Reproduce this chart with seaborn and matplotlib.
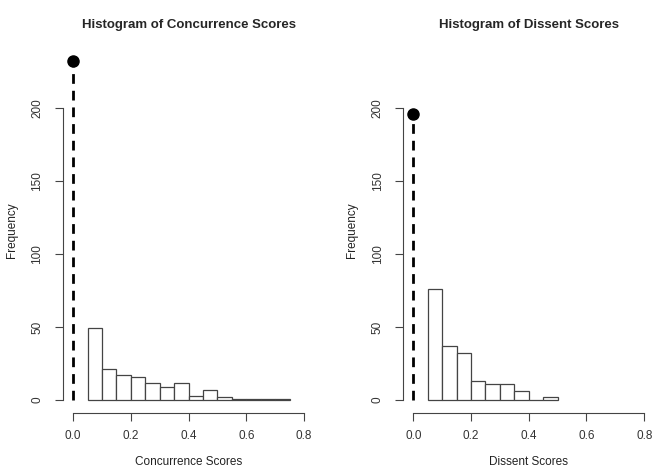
import matplotlib
matplotlib.use("Agg")
import matplotlib.pyplot as plt
import numpy as np
import pandas as pd
import seaborn as sns

sns.set_style("white")
plt.rcParams['font.family'] = ['Liberation Sans', 'DejaVu Sans']

# counts, bins of width 0.05 starting at 0.05
conc_counts = [49, 21, 17, 16, 12, 9, 12, 3, 7, 2, 1, 1, 1, 1]
diss_counts = [76, 37, 32, 13, 11, 11, 6, 0, 2]
conc_zero = 232   # spike at 0 (drawn as dashed line + dot)
diss_zero = 196
bin_start = 0.05
bin_width = 0.05

titles = ["Histogram of Concurrence Scores", "Histogram of Dissent Scores"]
xlabels = ["Concurrence Scores", "Dissent Scores"]
xticks = [0.0, 0.2, 0.4, 0.6, 0.8]
yticks = [0, 50, 100, 150, 200]

fig = plt.figure(figsize=(6.54, 4.68), dpi=100)
axes = [fig.add_axes([0.0963, 0.1175, 0.384, 0.781]),
        fig.add_axes([0.6165, 0.1175, 0.384, 0.781])]

grey = "#444444"
for ax, counts, zero, title, xl in zip(axes, [conc_counts, diss_counts],
                                      [conc_zero, diss_zero], titles, xlabels):
    n = len(counts)
    lo = bin_start
    hi = bin_start + bin_width * n
    df = pd.DataFrame({"score": lo + bin_width * (np.arange(n) + 0.5), "count": counts})
    sns.histplot(data=df, x="score", weights="count", binwidth=bin_width,
                 binrange=(lo, hi), ax=ax,
                 color="white", edgecolor=grey, linewidth=0.9, alpha=1)
    ax.plot([0, 0], [0, zero], color="black", linestyle=(0, (3.5, 2.5)), linewidth=2)
    ax.plot([0], [zero], "o", color="black", markersize=8)
    ax.set_xlim(-0.035, 0.835)
    ax.set_ylim(-8.9, 241.5)
    for s in ["top", "right"]:
        ax.spines[s].set_visible(False)
    ax.spines["left"].set_bounds(0, 200)
    ax.spines["bottom"].set_bounds(0, 0.8)
    for s in ["left", "bottom"]:
        ax.spines[s].set_color(grey)
        ax.spines[s].set_linewidth(0.8)
    ax.set_xticks(xticks)
    ax.set_xticklabels(["0.0", "0.2", "0.4", "0.6", "0.8"])
    ax.set_yticks(yticks)
    ax.set_yticklabels([str(t) for t in yticks], rotation=90, va="center")
    ax.tick_params(axis="both", direction="out", length=6, width=0.8,
                   color=grey, labelcolor="#333333", labelsize=8.5, pad=6,
                   bottom=True, left=True)
    ax.tick_params(axis="y", pad=8)
    ax.set_title(title, fontsize=9.5, fontweight="bold", pad=14)
    ax.set_xlabel(xl, fontsize=8.5, color="#222222", labelpad=10)
    ax.set_ylabel("Frequency", fontsize=8.5, color="#222222", labelpad=10)

fig.savefig("out.png", dpi=100)
